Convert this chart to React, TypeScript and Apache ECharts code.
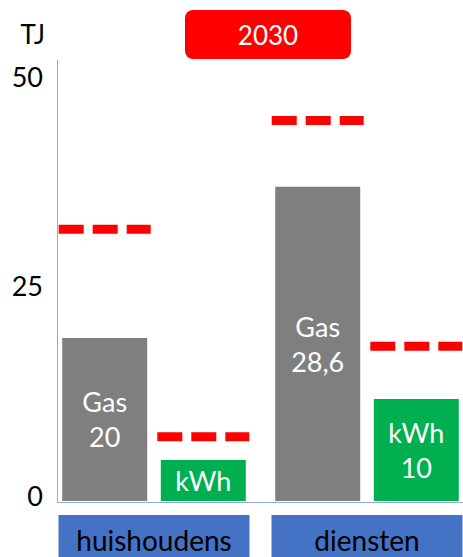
import React, { useEffect, useRef } from "react";
import * as echarts from "echarts";

const categories = ["huishoudens", "diensten"];
const gasValues = [19.5, 37.6];
const kwhValues = [4.9, 12.2];
const gasLabels = ["Gas\n20", "Gas\n28,6"];
const kwhLabels = ["kWh", "kWh\n10"];
const gasTargets = [32.5, 45.5];
const kwhTargets = [7.7, 18.5];
const yTicks = [0, 25, 50];
const yearTitle = "2030";
const unitLabel = "TJ";

const FONT = "Lato";
const Y_MAX = 52.75;
const BAR_W = 85;
const BAR_GAP = 0.16;

export default function App() {
  const ref = useRef<HTMLDivElement>(null);
  useEffect(() => {
    if (!ref.current) return;
    const chart = echarts.init(ref.current, null, { renderer: "svg" });
    const half = (BAR_W * (1 + BAR_GAP)) / 2;
    const targetSeries = (data: number[], sign: number) => ({
      type: "custom",
      xAxisIndex: 0,
      yAxisIndex: 0,
      z: 10,
      data: data.map((v, i) => [i, v]),
      renderItem: (params: any, api: any) => {
        const pt = api.coord([api.value(0), api.value(1)]);
        const cx = pt[0] + sign * half;
        return {
          type: "line",
          shape: { x1: cx - 46, y1: pt[1], x2: cx + 46, y2: pt[1] },
          style: { stroke: "#FF0000", lineWidth: 9, lineDash: [25, 9] },
        };
      },
    });
    chart.setOption({
      animation: false,
      textStyle: { fontFamily: FONT },
      grid: [
        { left: 47.5, right: -10.5, top: 60, bottom: 56, containLabel: false, outerBoundsMode: "none" },
        { left: 57, right: 0, top: 60, bottom: 55, containLabel: false, outerBoundsMode: "none" },
      ],
      xAxis: [
        {
          type: "category",
          gridIndex: 0,
          data: categories,
          axisLine: { show: false },
          axisTick: { show: false },
          axisLabel: {
            interval: 0,
            margin: 14,
            formatter: (v: string) => `{b|${v}}`,
            rich: {
              b: {
                backgroundColor: "#4472C4",
                width: 191,
                height: 50,
                lineHeight: 50,
                align: "center",
                fontSize: 28,
                color: "#000",
                fontFamily: FONT,
              },
            },
          },
        },
        {
          type: "value",
          gridIndex: 1,
          min: 0,
          max: 1,
          axisLine: { show: true, lineStyle: { color: "#8FAADC", width: 1 } },
          axisTick: { show: false },
          axisLabel: { show: false },
          splitLine: { show: false },
        },
      ],
      yAxis: [
        {
          type: "value",
          gridIndex: 0,
          min: 0,
          max: Y_MAX,
          show: false,
        },
        {
          type: "value",
          gridIndex: 1,
          min: 0,
          max: Y_MAX,
          interval: 25,
          name: unitLabel,
          nameLocation: "end",
          nameGap: 13,
          nameTextStyle: {
            fontSize: 26,
            color: "#000",
            align: "right",
            padding: [0, 12, 0, 0],
            fontFamily: FONT,
          },
          axisLine: { show: true, lineStyle: { color: "#8FAADC", width: 1 } },
          axisTick: { show: false },
          splitLine: { show: false },
          axisLabel: {
            showMaxLabel: false,
            margin: 14,
            fontSize: 27,
            color: "#000",
            verticalAlign: "bottom",
            lineHeight: 14,
            fontFamily: FONT,
            formatter: (v: number) => (yTicks.includes(v) ? String(v) : ""),
          },
        },
      ],
      graphic: [
        {
          type: "group",
          children: [
            {
              type: "rect",
              shape: { x: 185, y: 10, width: 166, height: 49, r: 8 },
              style: { fill: "#FF0000" },
            },
            {
              type: "text",
              style: {
                text: yearTitle,
                x: 268,
                y: 35,
                align: "center",
                verticalAlign: "middle",
                fill: "#fff",
                fontSize: 26,
                fontFamily: FONT,
              },
            },
          ],
        },
      ],
      series: [
        {
          type: "bar",
          name: "Gas",
          xAxisIndex: 0,
          yAxisIndex: 0,
          data: gasValues,
          barWidth: BAR_W,
          barGap: `${BAR_GAP * 100}%`,
          itemStyle: { color: "#7F7F7F" },
          label: {
            show: true,
            position: "inside",
            formatter: (p: any) => gasLabels[p.dataIndex],
            color: "#fff",
            fontSize: 27,
            lineHeight: 35,
            fontFamily: FONT,
          },
        },
        {
          type: "bar",
          name: "kWh",
          xAxisIndex: 0,
          yAxisIndex: 0,
          data: kwhValues,
          barWidth: BAR_W,
          barGap: `${BAR_GAP * 100}%`,
          itemStyle: { color: "#00B050" },
          label: {
            show: true,
            position: "inside",
            formatter: (p: any) => kwhLabels[p.dataIndex],
            color: "#fff",
            fontSize: 27,
            lineHeight: 35,
            fontFamily: FONT,
          },
        },
        targetSeries(gasTargets, -1),
        targetSeries(kwhTargets, 1),
      ],
    });
    return () => chart.dispose();
  }, []);
  return (
    <div
      ref={ref}
      style={{ position: "absolute", left: 0, top: 0, width: 463, height: 557 }}
    />
  );
}
